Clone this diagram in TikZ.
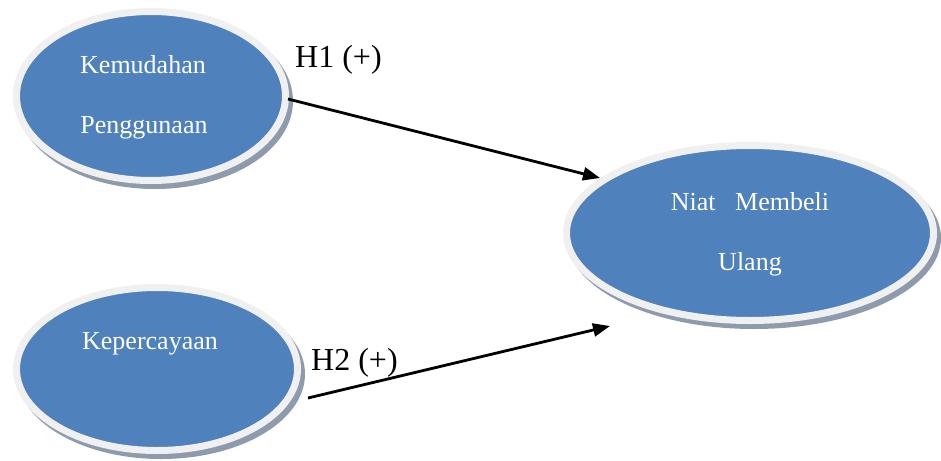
\documentclass[tikz,border=0pt]{standalone}
\usepackage{fontspec}
\setmainfont{Liberation Serif}
\usetikzlibrary{shapes.geometric,arrows.meta}
\definecolor{ellblue}{HTML}{4F81BD}
\definecolor{rimc}{HTML}{F0F0F0}
\definecolor{shadc}{HTML}{8E9BAD}
\tikzset{
  varell/.style={ellipse, draw=rimc, line width=7pt, fill=ellblue, inner sep=0pt, outer sep=0pt},
  lbl/.style={text=white, font=\fontsize{26}{30}\selectfont, anchor=base, inner sep=0pt},
  hyp/.style={text=black, font=\fontsize{32}{38}\selectfont, anchor=base west, inner sep=0pt},
  conn/.style={line width=2.8pt, -{Triangle[length=17pt,width=13pt]}}
}
\begin{document}
\begin{tikzpicture}[x=1pt,y=-1pt]
\useasboundingbox (0,0) rectangle (941,460);
% shadows
\fill[shadc] (155,101) ellipse (138 and 88);
\fill[shadc] (161,374) ellipse (144 and 85);
\fill[shadc] (754,238) ellipse (187 and 91);
% ellipses
\node[varell, minimum width=269pt, minimum height=169pt] (k1) at (151,96) {};
\node[varell, minimum width=281pt, minimum height=163pt] (k2) at (157,369) {};
\node[varell, minimum width=367pt, minimum height=175pt] (nm) at (750,233) {};
% labels
\node[lbl] (k1a) at (143,73) {Kemudahan};
\node[lbl] (k1b) at (144,133) {Penggunaan};
\node[lbl] (k2a) at (150,349) {Kepercayaan};
\node[lbl] (nma) at (750,210) {Niat\ \ \ Membeli};
\node[lbl] (nmb) at (750,270) {Ulang};
% hypotheses
\node[hyp] (h1) at (295,67) {H1 (+)};
\node[hyp] (h2) at (311,370) {H2 (+)};
% connectors
\coordinate (a1s) at (288,99);
\coordinate (a1e) at (600,178);
\coordinate (a2s) at (308,398);
\coordinate (a2e) at (610,326);
\draw[conn] (a1s) -- (a1e);
\draw[conn] (a2s) -- (a2e);
\end{tikzpicture}
\end{document}
